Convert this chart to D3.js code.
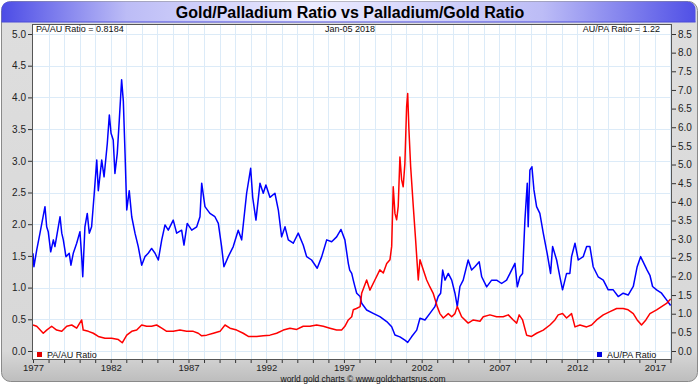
<!DOCTYPE html>
<html>
<head>
<meta charset="utf-8">
<script src="https://cdn.jsdelivr.net/npm/d3@7"></script>
<style>
body { margin: 0; background: #fff; }
svg text { font-family: "Liberation Sans", Arial, sans-serif; }
</style>
</head>
<body>
<svg id="chart" width="700" height="384"></svg>
<script>
// AU/PA ratio (right axis), [year, ratio]
const auPa = [
	[1977.0,2.62],[1977.06,2.26],[1977.24,2.71],[1977.45,3.16],[1977.77,3.87],[1977.88,3.33],[1977.98,3.2],
	[1978.14,2.66],[1978.31,2.98],[1978.41,2.8],[1978.74,3.6],[1978.85,3.16],[1978.95,2.98],[1979.12,2.53],
	[1979.33,2.62],[1979.44,2.30],[1979.59,2.62],[1979.81,2.89],[1980.02,3.2],[1980.13,2.53],[1980.2,1.99],
	[1980.34,3.33],[1980.49,3.69],[1980.62,3.16],[1980.77,3.33],[1980.94,4.23],[1981.1,5.12],[1981.2,4.3],
	[1981.42,5.12],[1981.57,4.67],[1981.78,5.57],[1981.91,6.33],[1982.02,5.84],[1982.16,5.66],[1982.27,4.76],
	[1982.42,5.30],[1982.55,6.19],[1982.7,7.27],[1982.81,6.7],[1982.92,5.3],[1983.03,3.78],[1983.19,4.3],
	[1983.35,3.6],[1983.56,3.16],[1983.77,2.8],[1983.99,2.3],[1984.2,2.53],[1984.41,2.62],[1984.63,2.75],
	[1984.85,2.62],[1985.06,2.44],[1985.28,2.98],[1985.49,3.38],[1985.7,3.24],[1986.02,3.51],[1986.24,3.16],
	[1986.56,3.24],[1986.71,2.84],[1986.92,3.42],[1987.21,3.24],[1987.53,3.33],[1987.74,3.6],[1987.85,4.5],
	[1988.06,3.87],[1988.38,3.69],[1988.7,3.6],[1988.92,3.42],[1989.13,2.8],[1989.28,2.26],[1989.56,2.53],
	[1989.88,2.8],[1990.2,3.24],[1990.42,2.98],[1990.74,4.23],[1991.0,4.9],[1991.13,4.12],[1991.34,3.51],
	[1991.6,4.5],[1991.81,4.23],[1991.98,4.45],[1992.24,4.12],[1992.56,4.23],[1992.78,3.78],[1992.99,3.06],
	[1993.21,3.33],[1993.42,2.98],[1993.74,2.89],[1994.06,3.16],[1994.38,2.84],[1994.6,2.53],[1994.92,2.44],
	[1995.28,2.22],[1995.57,2.53],[1995.89,2.98],[1996.21,2.93],[1996.53,3.06],[1996.81,3.26],[1997.06,2.98],
	[1997.28,2.35],[1997.37,2.17],[1997.5,2.08],[1997.6,1.9],[1997.71,1.72],[1997.82,1.55],[1998.04,1.46],
	[1998.14,1.28],[1998.46,1.1],[1998.88,1.01],[1999.31,0.92],[1999.75,0.79],[2000.07,0.65],[2000.28,0.43],
	[2000.6,0.38],[2000.92,0.29],[2001.1,0.23],[2001.35,0.38],[2001.68,0.56],[2001.89,0.88],[2002.21,0.83],
	[2002.53,1.01],[2002.85,1.19],[2003.06,1.46],[2003.22,1.55],[2003.35,2.17],[2003.5,1.9],[2003.71,2.08],
	[2003.93,1.9],[2004.14,1.55],[2004.29,1.19],[2004.46,1.73],[2004.67,1.9],[2004.99,2.44],[2005.21,2.17],
	[2005.42,2.26],[2005.7,2.39],[2005.86,1.99],[2006.18,1.72],[2006.5,1.9],[2006.82,1.9],[2007.14,1.81],
	[2007.46,1.9],[2007.68,2.08],[2008.0,2.35],[2008.15,1.72],[2008.32,1.99],[2008.49,2.08],[2008.64,3.51],
	[2008.79,4.5],[2008.85,3.33],[2008.96,4.85],[2009.09,4.94],[2009.22,4.32],[2009.39,3.87],[2009.6,3.69],
	[2009.82,3.16],[2010.07,2.62],[2010.29,2.08],[2010.42,2.8],[2010.68,2.44],[2010.89,1.99],[2011.06,1.64],
	[2011.32,2.08],[2011.53,2.08],[2011.64,2.53],[2011.86,2.89],[2012.07,2.44],[2012.39,2.53],[2012.61,2.8],
	[2012.82,2.8],[2013.03,2.26],[2013.35,1.99],[2013.68,1.9],[2014.0,1.64],[2014.32,1.64],[2014.64,1.46],
	[2014.96,1.55],[2015.28,1.5],[2015.61,1.73],[2015.86,2.26],[2016.08,2.53],[2016.29,2.35],[2016.5,2.17],
	[2016.68,2.03],[2016.85,1.73],[2017.11,1.64],[2017.43,1.55],[2017.75,1.37],[2018.01,1.22]
];

// PA/AU ratio (left axis), [year, ratio]
const paAu = [
	[1977.0,0.41],[1977.24,0.39],[1977.66,0.28],[1977.88,0.33],[1978.2,0.39],[1978.52,0.33],[1978.85,0.31],
	[1979.17,0.39],[1979.49,0.41],[1979.81,0.36],[1980.13,0.49],[1980.23,0.33],[1980.56,0.31],[1980.88,0.28],
	[1981.2,0.23],[1981.63,0.20],[1982.06,0.20],[1982.49,0.18],[1982.74,0.13],[1983.03,0.25],[1983.35,0.31],
	[1983.67,0.33],[1983.99,0.41],[1984.31,0.39],[1984.63,0.39],[1984.95,0.41],[1985.28,0.36],[1985.6,0.31],
	[1986.02,0.31],[1986.45,0.33],[1986.88,0.31],[1987.31,0.31],[1987.63,0.28],[1987.85,0.24],[1988.17,0.25],
	[1988.6,0.28],[1989.03,0.31],[1989.35,0.41],[1989.67,0.36],[1990.1,0.33],[1990.52,0.28],[1990.85,0.23],
	[1991.39,0.23],[1991.81,0.24],[1992.24,0.25],[1992.67,0.28],[1993.1,0.33],[1993.53,0.36],[1993.96,0.34],
	[1994.38,0.39],[1994.81,0.39],[1995.24,0.41],[1995.67,0.39],[1996.1,0.36],[1996.53,0.33],[1996.85,0.33],
	[1997.06,0.39],[1997.28,0.49],[1997.5,0.54],[1997.6,0.65],[1997.8,0.67],[1998.04,0.70],[1998.14,0.91],
	[1998.46,1.12],[1998.67,0.96],[1998.99,1.12],[1999.31,1.28],[1999.53,1.23],[1999.75,1.38],[1999.96,1.44],
	[2000.07,1.65],[2000.17,2.59],[2000.28,2.17],[2000.39,2.07],[2000.49,2.28],[2000.6,3.06],[2000.71,2.7],
	[2000.81,2.59],[2000.92,2.96],[2001.03,3.85],[2001.1,4.06],[2001.18,3.49],[2001.29,2.91],[2001.46,2.28],
	[2001.61,1.75],[2001.78,1.12],[2001.89,1.44],[2002.1,1.28],[2002.32,1.12],[2002.53,1.01],[2002.74,0.91],
	[2003.0,0.70],[2003.17,0.59],[2003.39,0.52],[2003.71,0.59],[2003.93,0.54],[2004.14,0.59],[2004.29,0.70],
	[2004.57,0.54],[2004.99,0.44],[2005.32,0.49],[2005.75,0.47],[2005.96,0.54],[2006.39,0.57],[2006.82,0.54],
	[2007.24,0.54],[2007.57,0.57],[2007.89,0.49],[2008.11,0.44],[2008.27,0.57],[2008.49,0.49],[2008.75,0.25],
	[2009.07,0.23],[2009.39,0.28],[2009.82,0.33],[2010.25,0.41],[2010.57,0.49],[2010.78,0.57],[2011.06,0.59],
	[2011.32,0.52],[2011.64,0.59],[2011.86,0.38],[2012.18,0.41],[2012.61,0.38],[2012.93,0.41],[2013.25,0.49],
	[2013.68,0.57],[2014.11,0.62],[2014.54,0.67],[2014.96,0.67],[2015.28,0.65],[2015.61,0.59],[2015.86,0.49],
	[2016.14,0.41],[2016.42,0.49],[2016.68,0.59],[2017.11,0.65],[2017.43,0.70],[2017.75,0.75],[2018.01,0.8184]
];

const yearTicks = d3.range(1977, 2019);
const yearLabels = [1977, 1982, 1987, 1992, 1997, 2002, 2007, 2012, 2017];
const leftTicks = d3.range(0, 5.01, 0.5);
const rightTicks = d3.range(0, 8.51, 0.5);

const title = 'Gold/Palladium Ratio vs Palladium/Gold Ratio';
const paAuLabel = 'PA/AU Ratio = 0.8184';
const auPaLabel = 'AU/PA Ratio = 1.22';
const dateLabel = 'Jan-05  2018';
const footer = 'world gold charts \u00a9 www.goldchartsrus.com';

const W = 700, H = 384;
const plot = { left: 32, right: 672, top: 24, bottom: 360 };

const svg = d3.select('#chart');
const defs = svg.append('defs');

const titleGrad = defs.append('linearGradient').attr('id', 'titleGrad');
[['0%', '#4c4ce6'], ['18%', '#bcbcf6'], ['45%', '#ececff'], ['78%', '#bcbcf6'], ['100%', '#5050e6']]
	.forEach(s => titleGrad.append('stop').attr('offset', s[0]).attr('stop-color', s[1]));

const panelGrad = defs.append('linearGradient').attr('id', 'panelGrad')
	.attr('x1', 0).attr('y1', 0).attr('x2', 0).attr('y2', 1);
[['0%', '#dedede'], ['92%', '#d8d8d8'], ['100%', '#bdbdbd']]
	.forEach(s => panelGrad.append('stop').attr('offset', s[0]).attr('stop-color', s[1]));

defs.append('clipPath').attr('id', 'plotClip')
	.append('rect')
	.attr('x', plot.left).attr('y', plot.top)
	.attr('width', plot.right - plot.left).attr('height', plot.bottom - plot.top);

// Panel
svg.append('rect').attr('width', W).attr('height', H).attr('fill', '#ffffff');
svg.append('rect')
	.attr('x', 1.5).attr('y', 1.5).attr('width', W - 4).attr('height', H - 4)
	.attr('rx', 9)
	.attr('fill', 'url(#panelGrad)')
	.attr('stroke', '#8a8a8a');

// Title bar
svg.append('path')
	.attr('d', 'M1.5,22 V10.5 Q1.5,1.5 10.5,1.5 H686.5 Q695.5,1.5 695.5,10.5 V22 Z')
	.attr('fill', 'url(#titleGrad)');
svg.append('line')
	.attr('x1', 1.5).attr('x2', 695.5).attr('y1', 22).attr('y2', 22)
	.attr('stroke', '#4a4ad8');
svg.append('text')
	.attr('x', 350).attr('y', 17.5)
	.attr('text-anchor', 'middle')
	.attr('font-size', 16).attr('font-weight', 'bold').attr('fill', '#000')
	.text(title);

// Scales
const x = d3.scaleLinear().domain([1977, 2018.1]).range([33, 672]);
const yL = d3.scaleLinear().domain([0, 5]).range([351, 34]);
const yR = d3.scaleLinear().domain([0, 8.5]).range([351, 34]);

// Plot background and grid
svg.append('rect')
	.attr('x', plot.left).attr('y', plot.top)
	.attr('width', plot.right - plot.left).attr('height', plot.bottom - plot.top)
	.attr('fill', '#ffffff');

const grid = svg.append('g').attr('stroke', '#dcebf8').attr('stroke-width', 1);
grid.selectAll('line.v')
	.data(yearTicks.filter(d => x(d) > plot.left + 1 && x(d) < plot.right - 1))
	.join('line')
	.attr('x1', d => Math.round(x(d)) + 0.5).attr('x2', d => Math.round(x(d)) + 0.5)
	.attr('y1', plot.top).attr('y2', plot.bottom);
grid.selectAll('line.h')
	.data(leftTicks)
	.join('line')
	.attr('x1', plot.left).attr('x2', plot.right)
	.attr('y1', d => Math.round(yL(d)) + 0.5).attr('y2', d => Math.round(yL(d)) + 0.5);

// Lines
const lineL = d3.line().x(d => x(d[0])).y(d => yL(d[1]));
const lineR = d3.line().x(d => x(d[0])).y(d => yR(d[1]));

const lines = svg.append('g').attr('clip-path', 'url(#plotClip)');
lines.append('path')
	.datum(auPa)
	.attr('d', lineR)
	.attr('fill', 'none')
	.attr('stroke', '#0000ff')
	.attr('stroke-width', 1.5)
	.attr('stroke-linejoin', 'round');
lines.append('path')
	.datum(paAu)
	.attr('d', lineL)
	.attr('fill', 'none')
	.attr('stroke', '#ff0000')
	.attr('stroke-width', 1.5)
	.attr('stroke-linejoin', 'round');

// Frame
svg.append('rect')
	.attr('x', plot.left + 0.5).attr('y', plot.top + 0.5)
	.attr('width', plot.right - plot.left - 1).attr('height', plot.bottom - plot.top - 1)
	.attr('fill', 'none')
	.attr('stroke', '#555');

// Axes
const fmt = d3.format('.1f');
const leftAxis = svg.append('g')
	.attr('transform', 'translate(' + plot.left + ',0)')
	.call(d3.axisLeft(yL).tickValues(leftTicks).tickFormat(fmt).tickSize(4).tickPadding(2));
const rightAxis = svg.append('g')
	.attr('transform', 'translate(' + plot.right + ',0)')
	.call(d3.axisRight(yR).tickValues(rightTicks).tickFormat(fmt).tickSize(4).tickPadding(2));
const bottomAxis = svg.append('g')
	.attr('transform', 'translate(0,' + plot.bottom + ')')
	.call(d3.axisBottom(x).tickValues(yearTicks.filter(d => x(d) <= plot.right)).tickSize(3).tickPadding(2)
		.tickFormat(d => yearLabels.includes(d) ? d : ''));

[leftAxis, rightAxis, bottomAxis].forEach(a => {
	a.select('.domain').remove();
	a.selectAll('line').attr('stroke', '#333');
	a.selectAll('text')
		.attr('font-size', 10)
		.attr('font-family', '"Liberation Sans", Arial, sans-serif')
		.attr('fill', '#222');
});
bottomAxis.selectAll('text').attr('dy', '0.68em').attr('font-size', 9.5);

// In-plot labels
const labels = svg.append('g').attr('font-size', 9).attr('fill', '#111');
labels.append('text').attr('x', 36).attr('y', 32).text(paAuLabel);
labels.append('text').attr('x', 350).attr('y', 32).attr('text-anchor', 'middle').text(dateLabel);
labels.append('text').attr('x', 660).attr('y', 32).attr('text-anchor', 'end').text(auPaLabel);

// Legend
const legend = [
	{ name: 'PA/AU Ratio', color: '#e00000', x: 37 },
	{ name: 'AU/PA Ratio', color: '#0000e0', x: 597 }
];
const lg = svg.selectAll('g.legend')
	.data(legend)
	.join('g')
	.attr('class', 'legend')
	.attr('transform', d => 'translate(' + d.x + ',352)');
lg.append('rect').attr('width', 5).attr('height', 5).attr('fill', d => d.color);
lg.append('text').attr('x', 10).attr('y', 6).attr('font-size', 9).attr('fill', '#111').text(d => d.name);

// Footer
svg.append('text')
	.attr('x', 363).attr('y', 381.5)
	.attr('text-anchor', 'middle')
	.attr('font-size', 8.5).attr('fill', '#111')
	.text(footer);
</script>
</body>
</html>
